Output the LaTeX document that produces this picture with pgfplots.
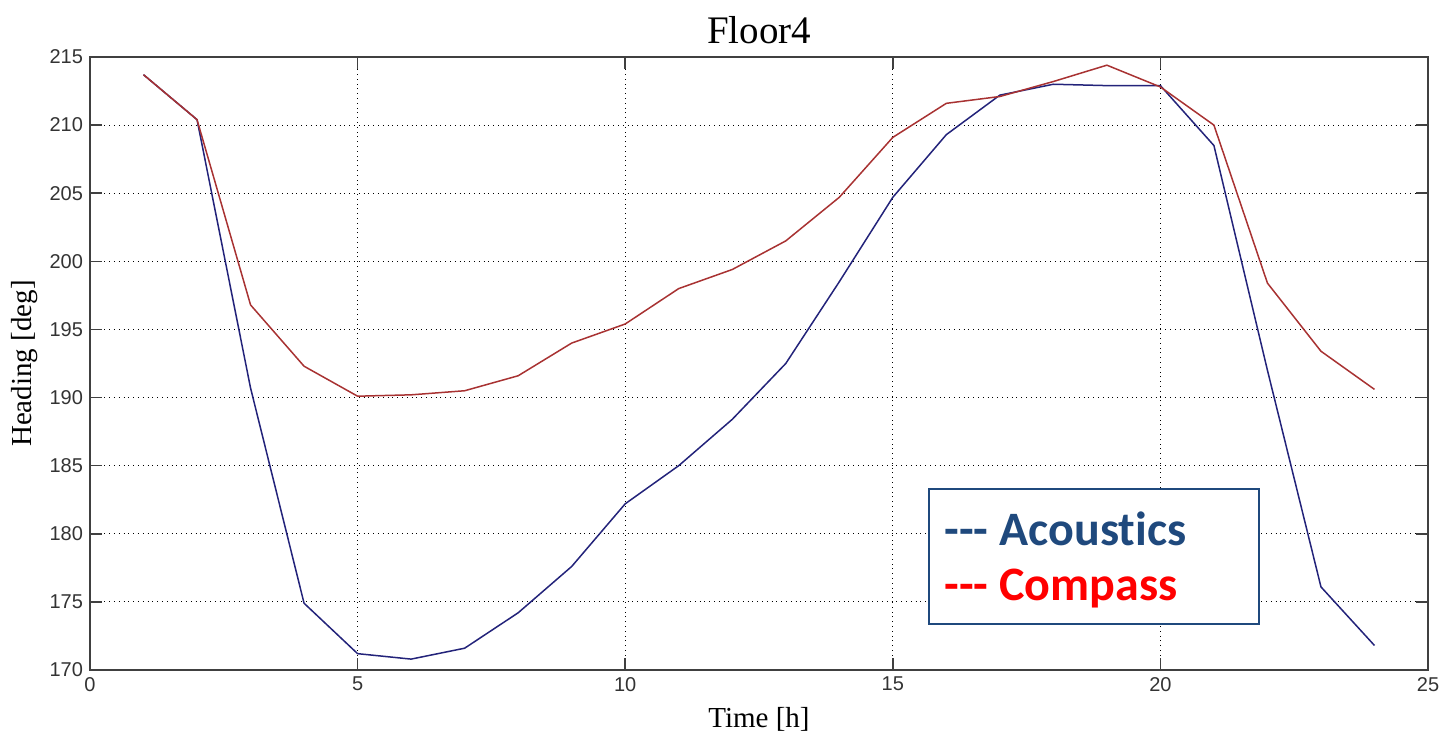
\documentclass[border=0pt]{standalone}
\usepackage{fontspec}
\setmainfont{Liberation Serif}
\setsansfont{Liberation Sans}
\newfontfamily\legendfont[Ligatures=NoCommon]{Carlito}
\usepackage{pgfplots}
\pgfplotsset{compat=1.18}
\definecolor{acoblue}{HTML}{23237A}
\definecolor{compred}{HTML}{A83232}
\definecolor{legblue}{HTML}{1F497D}
\definecolor{legred}{HTML}{FF0000}
\definecolor{axgray}{HTML}{404040}

\begin{document}
\begin{tikzpicture}
\useasboundingbox (-45pt,-32pt) rectangle (679.5pt,335pt);
\begin{axis}[
  at={(0pt,0pt)}, anchor=south west,
  scale only axis,
  width=669pt, height=306.5pt,
  xmin=0, xmax=25, ymin=170, ymax=215,
  xtick={0,5,...,25}, ytick={170,175,...,215},
  grid=major,
  major grid style={black, dotted, line width=0.5pt},
  axis line style={axgray, line width=0.8pt},
  tick style={axgray, line width=0.8pt},
  tick align=inside,
  major tick length=6pt,
  tick label style={font=\sffamily\fontsize{10}{12}\selectfont, text=black!80},
  /pgf/number format/assume math mode=true,
  title={\fontsize{19.5}{22}\selectfont Floor4},
  title style={yshift=-3pt},
  xlabel={\fontsize{14.5}{16}\selectfont Time [h]},
  ylabel={\fontsize{14.5}{16}\selectfont Heading [deg]},
  xlabel style={yshift=-1pt},
  ylabel style={yshift=-1pt},
]
\addplot[acoblue, line width=0.75pt] coordinates {
 (1,213.7) (2,210.4) (3,190.7) (4,174.9) (5,171.2) (6,170.8) (7,171.6)
 (8,174.2) (9,177.6) (10,182.2) (11,185.0) (12,188.4) (13,192.5)
 (14,198.5) (15,204.7) (16,209.3) (17,212.2) (18,213.0) (19,212.9)
 (20,212.9) (21,208.5) (22,192.0) (23,176.1) (24,171.8)
};
\addplot[compred, line width=0.75pt] coordinates {
 (1,213.7) (2,210.4) (3,196.8) (4,192.3) (5,190.1) (6,190.2) (7,190.5)
 (8,191.6) (9,194.0) (10,195.4) (11,198.0) (12,199.4) (13,201.5)
 (14,204.7) (15,209.1) (16,211.6) (17,212.1) (18,213.2) (19,214.4)
 (20,212.8) (21,210.0) (22,198.4) (23,193.4) (24,190.6)
};
\node[draw=legblue, line width=1pt, fill=white, anchor=north west,
  minimum width=165pt, minimum height=67.5pt, inner sep=0pt]
  (leg) at (axis cs:15.66,183.35) {};
\node[anchor=base west, inner sep=0pt, font=\legendfont\bfseries\fontsize{24}{28}\selectfont, text=legblue]
  at ([xshift=8pt, yshift=-28.5pt]leg.north west) {-{}-{}- Acoustics};
\node[anchor=base west, inner sep=0pt, font=\legendfont\bfseries\fontsize{24}{28}\selectfont, text=legred]
  at ([xshift=8pt, yshift=-56pt]leg.north west) {-{}-{}- Compass};
\end{axis}
\end{tikzpicture}
\end{document}
